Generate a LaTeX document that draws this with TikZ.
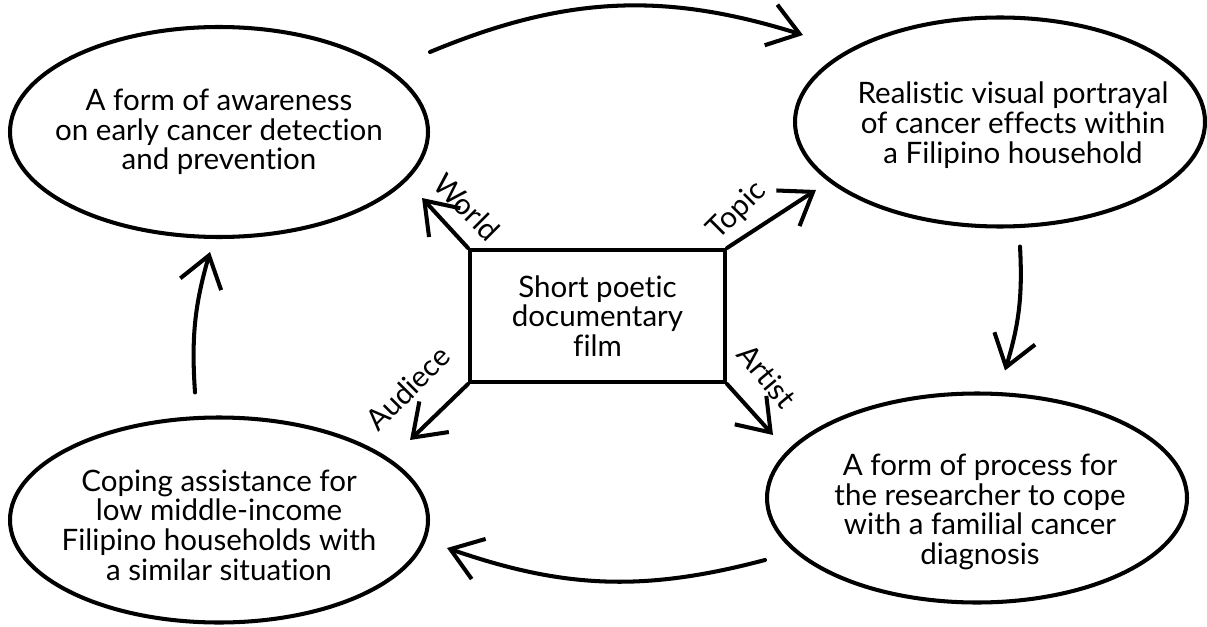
\documentclass[tikz,border=0pt]{standalone}
\usepackage{fontspec}
\setmainfont[Ligatures=NoCommon]{Lato}
\usetikzlibrary{shapes.geometric,arrows.meta,positioning}

\tikzset{
  bubble/.style={draw,ellipse,line width=2.3pt,minimum width=8.36cm,minimum height=4.2cm,inner sep=0pt},
  txt/.style={align=center,font=\fontsize{16.8}{16.9}\selectfont},
  arr/.style={-{Straight Barb[length=6mm,width=8.5mm]},line width=2.3pt,line cap=round},
}

\begin{document}
\begin{tikzpicture}
	\useasboundingbox (0,0) rectangle (24.14,12.52);
	% the four outcomes
	\node[bubble] (aware) at (4.38,9.88) {};
	\node[txt] (awaretxt) at (aware) {A form of awareness\\on early cancer detection\\and prevention};
	\node[bubble,minimum width=8.2cm,minimum height=4.18cm] (portray) at (20.0,10.08) {};
	\node[txt] (portraytxt) at ([xshift=.26cm,yshift=-.06cm]portray) {Realistic visual portrayal\\of cancer effects within\\a Filipino household};
	\node[bubble,minimum height=4.1cm] (cope) at (4.38,2.12) {};
	\node[txt] (copetxt) at ([yshift=-.1cm]cope) {Coping assistance for\\low middle-income\\Filipino households with\\a similar situation};
	\node[bubble,minimum width=8.4cm,minimum height=4.18cm] (process) at (19.54,2.56) {};
	\node[txt] (processtxt) at ([xshift=.06cm,yshift=-.28cm]process) {A form of process for\\the researcher to cope\\with a familial cancer\\diagnosis};
	% the film in the middle
	\node[draw,line width=2.3pt,minimum width=5.1cm,minimum height=2.64cm,txt] (film) at (11.95,6.2) {Short poetic\\documentary\\film};
	% film to outcomes
	\draw[arr] (film.north west) -- ([xshift=-.16cm,yshift=-1.32cm]aware.east);
	\draw[arr] (film.north east) -- ([xshift=.46cm,yshift=-1.36cm]portray.west);
	\draw[arr] (film.south west) -- ([xshift=-.4cm,yshift=1.6cm]cope.east);
	\draw[arr] (film.south east) -- ([xshift=.16cm,yshift=1.26cm]process.west);
	\node[txt,rotate=-45] (world) at (9.34,8.38) {World};
	\node[txt,rotate=45] (topic) at (14.74,8.30) {Topic};
	\node[txt,rotate=45] (audience) at (8.16,4.76) {Audiece};
	\node[txt,rotate=-50] (artist) at (15.34,5.0) {Artist};
	% the cycle round
	\draw[arr] ([yshift=1.6cm]aware.east) to[bend left=20] ([xshift=.2cm,yshift=1.74cm]portray.west);
	\draw[arr] ([xshift=.4cm,yshift=-.36cm]portray.south) to[bend left=10] ([xshift=.56cm,yshift=.42cm]process.north);
	\draw[arr] ([yshift=-1.24cm]process.west) to[bend left=17] ([xshift=.34cm,yshift=-.56cm]cope.east);
	\draw[arr] ([xshift=-.48cm,yshift=.46cm]cope.north) to[bend left=10] ([xshift=-.18cm,yshift=-.26cm]aware.south);
\end{tikzpicture}
\end{document}
